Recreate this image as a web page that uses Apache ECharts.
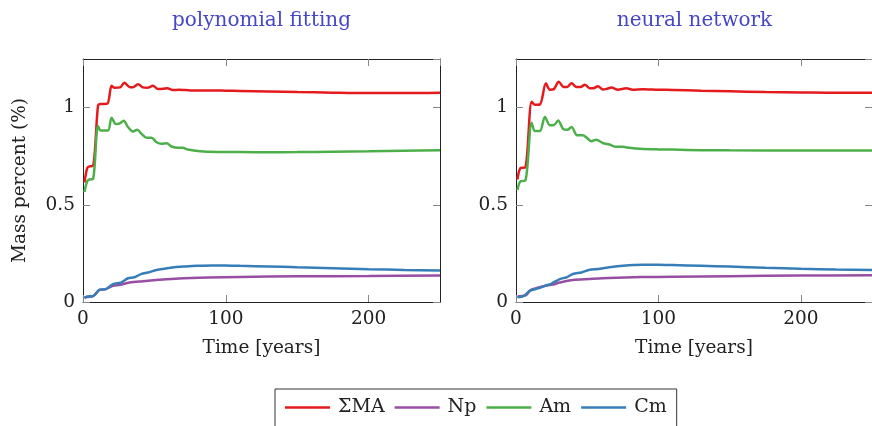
<!DOCTYPE html>
<html>
<head>
<meta charset="utf-8">
<script src="https://cdn.jsdelivr.net/npm/echarts@6/dist/echarts.min.js"></script>
<style>
  html, body { margin: 0; padding: 0; background: #fff; }
  #main { width: 872px; height: 426px; }
</style>
</head>
<body>
<div id="main"></div>
<script>
// panel titles and legend names
var panelTitles = ['polynomial fitting', 'neural network'];
var seriesNames = ['ΣMA', 'Np', 'Am', 'Cm'];
var colors = ['#e41a1c', '#984ea3', '#4daf4a', '#377eb8'];

// polynomial fitting  [time, mass %]
var polyMA = [[1,0.615],[3,0.69],[4.5,0.698],[7,0.70],[10.5,1.01],[12,1.018],[17,1.02],[20,1.112],[22,1.102],[26,1.104],[29,1.128],[32.5,1.106],[35,1.105],[38.5,1.12],[42,1.104],[45,1.102],[49,1.112],[52.5,1.096],[56,1.097],[59,1.10],[63,1.09],[67,1.092],[72,1.09],[80,1.088],[90,1.088],[100,1.087],[110,1.086],[130,1.083],[150,1.08],[175,1.077],[200,1.075],[225,1.075],[250,1.077]];
var polyNp = [[1,0.025],[7,0.03],[11.5,0.062],[16,0.066],[21,0.083],[26,0.088],[32.5,0.1],[42,0.107],[53,0.114],[67,0.121],[88,0.126],[110,0.129],[150,0.132],[200,0.134],[250,0.136]];
var polyAm = [[1,0.566],[3,0.622],[4.5,0.63],[7,0.632],[10.5,0.905],[12.5,0.882],[17.5,0.882],[20,0.948],[23,0.916],[25.5,0.918],[28.5,0.932],[31.5,0.9],[35,0.877],[38,0.886],[41,0.865],[44.5,0.845],[48,0.845],[51.5,0.822],[55,0.814],[58.5,0.817],[62,0.8],[66.5,0.793],[70,0.793],[73.5,0.784],[82,0.776],[95,0.772],[110,0.771],[130,0.770],[150,0.771],[175,0.773],[200,0.775],[225,0.778],[250,0.781]];
var polyCm = [[1,0.02],[3,0.028],[7,0.03],[11.5,0.062],[16,0.066],[21,0.092],[26.5,0.1],[31.5,0.122],[36,0.127],[41,0.145],[45.5,0.152],[51.5,0.165],[58,0.172],[64,0.179],[72,0.183],[80,0.186],[90,0.188],[100,0.188],[110,0.186],[130,0.183],[150,0.179],[175,0.174],[200,0.169],[225,0.165],[250,0.162]];

// neural network  [time, mass %]
var nnMA = [[1,0.63],[3.3,0.69],[6.5,0.692],[11,1.03],[13.3,1.015],[16.8,1.016],[21,1.125],[23.8,1.092],[26.6,1.095],[30,1.133],[33.5,1.106],[36,1.106],[39,1.125],[42.5,1.106],[45.3,1.106],[48.3,1.117],[51.7,1.1],[54.5,1.1],[57.6,1.11],[61,1.093],[64,1.097],[67,1.103],[71.5,1.092],[77.5,1.099],[82,1.092],[89,1.095],[100,1.092],[110,1.091],[130,1.087],[150,1.084],[175,1.08],[200,1.078],[225,1.076],[250,1.076]];
var nnNp = [[1,0.028],[7,0.035],[10.5,0.062],[20.3,0.083],[26,0.09],[30.8,0.1],[40,0.113],[51.7,0.118],[65,0.123],[88,0.128],[110,0.130],[150,0.133],[200,0.136],[250,0.137]];
var nnAm = [[1,0.576],[3.3,0.622],[6.5,0.624],[11,0.922],[13.3,0.88],[16.8,0.88],[20.3,0.952],[23.8,0.909],[26.6,0.91],[29.6,0.933],[33,0.891],[36,0.886],[39,0.9],[42.9,0.858],[47,0.858],[49.5,0.846],[53,0.827],[56.4,0.835],[61,0.818],[65.7,0.81],[70.4,0.798],[75,0.798],[79.7,0.793],[87,0.788],[100,0.785],[110,0.784],[130,0.781],[150,0.78],[200,0.779],[250,0.779]];
var nnCm = [[1,0.024],[5.6,0.032],[9.8,0.058],[15.6,0.07],[20.3,0.083],[25,0.095],[30.8,0.118],[35.5,0.127],[40,0.144],[46,0.152],[51.7,0.166],[57.6,0.17],[64.6,0.178],[75,0.187],[89,0.192],[100,0.191],[110,0.19],[130,0.186],[150,0.182],[175,0.176],[200,0.171],[225,0.167],[250,0.164]];

var panels = [[polyMA, polyNp, polyAm, polyCm], [nnMA, nnNp, nnAm, nnCm]];

var font = 'DejaVu Serif';
var chart = echarts.init(document.getElementById('main'));

var grids = [
  {left: 83, top: 59, width: 357, height: 243},
  {left: 516, top: 59, width: 357, height: 243}
];

var xAxes = [], yAxes = [], series = [], titles = [];

grids.forEach(function (g, i) {
  titles.push({
    text: panelTitles[i],
    left: g.left + g.width / 2,
    top: 11,
    textAlign: 'center',
    padding: 0,
    textStyle: {fontFamily: font, fontSize: 20, fontWeight: 'normal', color: '#4646c8'}
  });
  // bottom / top
  xAxes.push({
    type: 'value', gridIndex: i, min: 0, max: 250, interval: 100,
    name: 'Time [years]', nameLocation: 'middle', nameGap: 37,
    nameTextStyle: {fontFamily: font, fontSize: 18.5, color: '#222'},
    axisLine: {show: true, onZero: false, lineStyle: {color: '#222', width: 1}},
    axisTick: {show: true, inside: true, length: 7, lineStyle: {color: '#888'}},
    axisLabel: {fontFamily: font, fontSize: 18.5, color: '#222', margin: 8, showMaxLabel: false},
    splitLine: {show: false}
  });
  xAxes.push({
    type: 'value', gridIndex: i, position: 'top', min: 0, max: 250, interval: 100,
    axisLine: {show: true, onZero: false, lineStyle: {color: '#222', width: 1}},
    axisTick: {show: true, inside: true, length: 7, lineStyle: {color: '#888'}},
    axisLabel: {show: false},
    splitLine: {show: false}
  });
  // left / right
  yAxes.push({
    type: 'value', gridIndex: i, min: 0, max: 1.25, interval: 0.5,
    name: i === 0 ? 'Mass percent (%)' : '', nameLocation: 'middle', nameGap: 53,
    nameTextStyle: {fontFamily: font, fontSize: 18.5, color: '#222'},
    axisLine: {show: true, onZero: false, lineStyle: {color: '#222', width: 1}},
    axisTick: {show: true, inside: true, length: 7, lineStyle: {color: '#888'}},
    axisLabel: {fontFamily: font, fontSize: 18.5, color: '#222', margin: 8, showMaxLabel: false},
    splitLine: {show: false}
  });
  yAxes.push({
    type: 'value', gridIndex: i, position: 'right', min: 0, max: 1.25, interval: 0.5,
    axisLine: {show: true, onZero: false, lineStyle: {color: '#222', width: 1}},
    axisTick: {show: true, inside: true, length: 7, lineStyle: {color: '#888'}},
    axisLabel: {show: false},
    splitLine: {show: false}
  });

  panels[i].forEach(function (d, k) {
    series.push({
      name: seriesNames[k],
      type: 'line',
      xAxisIndex: i * 2,
      yAxisIndex: i * 2,
      data: d,
      showSymbol: false,
      smooth: 0.3,
      color: colors[k],
      lineStyle: {width: 2.5, color: colors[k]},
      z: 3
    });
  });
});

var option = {
  backgroundColor: '#fff',
  animation: false,
  title: titles,
  grid: grids,
  xAxis: xAxes,
  yAxis: yAxes,
  legend: {
    data: seriesNames,
    left: 275,
    top: 389,
    padding: [9, 10, 20, 10],
    borderColor: '#333',
    borderWidth: 1,
    icon: 'rect',
    itemWidth: 45,
    itemHeight: 2.5,
    itemGap: 10,
    selectedMode: false,
    textStyle: {fontFamily: font, fontSize: 19, color: '#222', padding: [0, 0, 0, 3]}
  },
  series: series
};

chart.setOption(option);
</script>
</body>
</html>
